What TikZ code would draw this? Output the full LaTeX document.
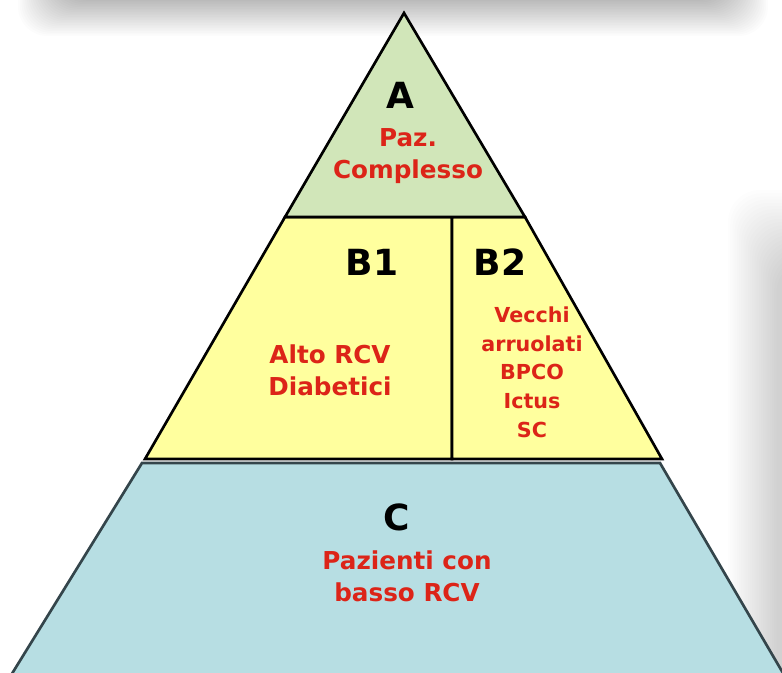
\documentclass[tikz,border=0pt]{standalone}
\usepackage{fontspec}
\setmainfont{DejaVu Sans}
\definecolor{levelA}{HTML}{D1E6B9}
\definecolor{levelB}{HTML}{FFFF9E}
\definecolor{levelC}{HTML}{B7DEE3}
\definecolor{labelred}{HTML}{DC2418}
\definecolor{edgeC}{HTML}{34454B}
\tikzset{
  tier/.style={line width=2pt, line join=miter},
  tierletter/.style={font=\bfseries\fontsize{27}{30}\selectfont, text=black, inner sep=0pt},
  tiertext/.style={font=\bfseries\fontsize{18.5}{24}\selectfont, text=labelred, align=center, inner sep=0pt},
  smalltext/.style={font=\bfseries\fontsize{15.5}{21.5}\selectfont, text=labelred, align=center, inner sep=0pt},
}
\begin{document}
\begin{tikzpicture}[x=0.75pt,y=-0.75pt]
\useasboundingbox (0,0) rectangle (782,672);
\clip (0,0) rectangle (782,672);
\fill[white] (0,0) rectangle (782,672);

% soft frame shadows along the top and right borders
\foreach \k in {0,...,22}{
  \fill[black, opacity=0.011, rounded corners=22pt]
    (18+1.8*\k,-40) rectangle (768-1.8*\k,36-1.6*\k);
}
\foreach \k in {0,...,22}{
  \fill[black, opacity=0.008, rounded corners=24pt]
    (728+2.2*\k,190+3.2*\k) rectangle (830,720);
}

% base tier C
\filldraw[tier, fill=levelC, draw=edgeC]
  (142,463) -- (660,463) -- (790,685) -- (5,685) -- cycle;

% middle tier: B1 and B2
\filldraw[tier, fill=levelB] (285,217) -- (452,217) -- (452,459) -- (145,459) -- cycle;
\filldraw[tier, fill=levelB] (452,217) -- (525,217) -- (662,459) -- (452,459) -- cycle;

% top tier A
\filldraw[tier, fill=levelA] (404,13) -- (525,217) -- (285,217) -- cycle;

% labels
\node[tierletter] (la) at (400,95) {A};
\node[tiertext] (ta) at (408,156) {Paz.\\Complesso};

\node[tierletter] (lb1) at (372,262) {B1};
\node[tierletter] (lb2) at (500,262) {B2};
\node[tiertext] (tb1) at (330,370) {Alto RCV\\Diabetici};
\node[smalltext] (tb2) at (532,372) {Vecchi\\arruolati\\BPCO\\Ictus\\SC};

\node[tierletter] (lc) at (397,517) {C};
\node[tiertext] (tc) at (407,576) {Pazienti con\\basso RCV};
\end{tikzpicture}
\end{document}
